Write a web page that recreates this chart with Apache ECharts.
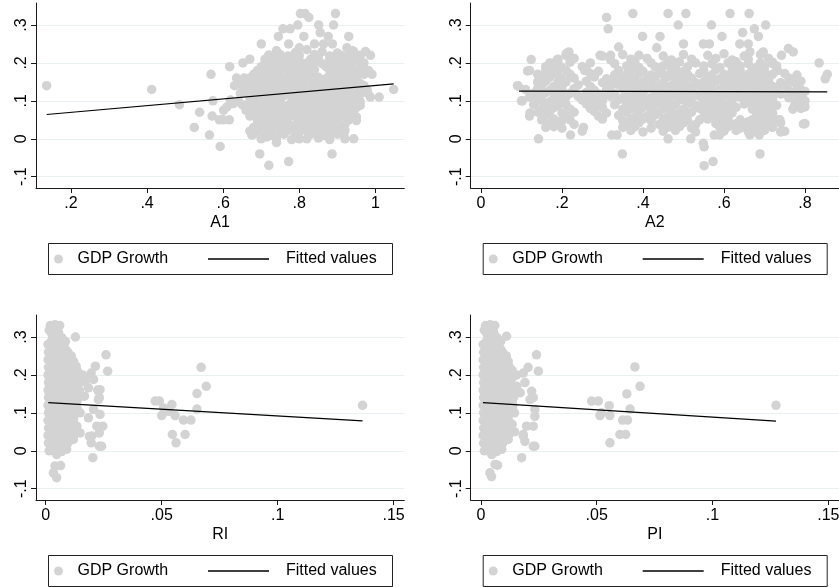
<!DOCTYPE html>
<html><head><meta charset="utf-8">
<script src="https://cdn.jsdelivr.net/npm/echarts@6/dist/echarts.min.js"></script>
<style>html,body{margin:0;padding:0;background:#fff}#c{width:839px;height:587px}</style>
</head><body><div id="c"></div>
<script>
const seriesNames = ['GDP Growth', 'Fitted values'];
const xTitles = ['A1', 'A2', 'RI', 'PI'];
const yTicks = [-0.1, 0, 0.1, 0.2, 0.3];
const xTicksA1 = [0.2, 0.4, 0.6, 0.8, 1];
const xTicksA2 = [0, 0.2, 0.4, 0.6, 0.8];
const xTicksRI = [0, 0.05, 0.1, 0.15];
const xTicksPI = [0, 0.05, 0.1, 0.15];
const fitA1 = [[0.136, 0.064], [1.048, 0.145]];
const fitA2 = [[0.094, 0.1255], [0.855, 0.1237]];
const fitRI = [[0.0011, 0.127], [0.1366, 0.079]];
const fitPI = [[0.0009, 0.127], [0.1274, 0.078]];

const ptsA1 = [
[0.136,0.14],[0.412,0.13],[0.485,0.09],[0.524,0.03],[0.538,0.07],[0.564,0.01],[0.568,0.17],[0.571,0.06],[0.573,0.1],[0.592,-0.02],
[0.59,0.05],[0.6,0.05],[0.616,0.05],[0.601,0.075],[0.61,0.084],[0.619,0.102],[0.627,0.093],[0.617,0.19],[0.63,0.14],[0.645,0.12],
[0.655,0.16],[0.64,0.1],[0.65,0.09],[0.66,0.075],[0.635,0.16],[0.645,0.15],[0.652,0.2],[0.66,0.14],[0.67,0.21],[0.675,0.01],
[0.685,0.03],[0.696,-0.04],[0.70,0.25],[0.715,0.005],[0.72,-0.07],[0.72,0.22],[0.74,-0.01],[0.745,0.27],[0.757,0.29],[0.772,-0.06],
[0.772,0.25],[0.776,0.29],[0.796,0.30],[0.80,0.24],[0.803,0.33],[0.812,0.27],[0.815,0.33],[0.82,0.0],[0.825,0.32],[0.84,0.25],
[0.851,0.30],[0.855,0.28],[0.864,0.25],[0.868,0.01],[0.876,0.27],[0.886,-0.04],[0.887,0.25],[0.89,0.30],[0.895,0.33],[0.917,0.01],
[0.925,0.24],[0.93,0.27],[0.943,0.0],[0.943,0.23],[0.96,0.22],[0.974,0.23],[0.978,0.13],[0.982,0.18],[0.987,0.11],[0.987,0.22],
[0.991,0.17],[1.01,0.11],[1.048,0.13],
[0.74,0.232],[0.79,0.228],[0.82,0.235],[0.86,0.23],[0.9,0.226],[0.94,0.232],
[0.72,0.22],[0.75,0.222],[0.77,0.218],[0.8,0.22],[0.84,0.222],[0.88,0.218],[0.91,0.22],[0.93,0.222],[0.96,0.218],
[0.71,0.21],[0.73,0.214],[0.76,0.208],[0.78,0.212],[0.80,0.206],[0.83,0.21],[0.85,0.214],[0.88,0.208],[0.9,0.212],[0.92,0.205],[0.95,0.21],
[0.71,0.2],[0.73,0.198],[0.75,0.202],[0.77,0.2],[0.79,0.198],[0.82,0.2],[0.84,0.202],[0.86,0.198],[0.88,0.2],[0.9,0.2],[0.92,0.198],[0.94,0.202],[0.97,0.2],
[0.70,0.19],[0.72,0.186],[0.74,0.192],[0.76,0.19],[0.78,0.185],[0.81,0.192],[0.83,0.188],[0.87,0.19],[0.89,0.186],[0.91,0.194],[0.93,0.19],[0.96,0.188],
[0.69,0.18],[0.71,0.182],[0.73,0.178],[0.75,0.18],[0.77,0.182],[0.8,0.178],[0.82,0.18],[0.84,0.182],[0.88,0.18],[0.9,0.178],[0.92,0.182],[0.95,0.18],
[0.68,0.17],[0.70,0.168],[0.72,0.172],[0.74,0.17],[0.77,0.166],[0.79,0.172],[0.81,0.168],[0.83,0.17],[0.88,0.168],[0.9,0.172],[0.92,0.166],[0.94,0.17],[0.97,0.17],
[0.67,0.16],[0.7,0.162],[0.72,0.158],[0.75,0.16],[0.78,0.162],[0.8,0.158],[0.82,0.16],[0.85,0.162],[0.87,0.158],[0.89,0.16],[0.91,0.162],[0.93,0.158],[0.95,0.16],
[0.66,0.15],[0.69,0.152],[0.71,0.148],[0.73,0.15],[0.75,0.154],[0.77,0.148],[0.79,0.15],[0.81,0.152],[0.84,0.148],[0.86,0.15],[0.88,0.154],[0.9,0.148],[0.92,0.15],[0.94,0.152],[0.96,0.146],
[0.65,0.14],[0.68,0.142],[0.7,0.138],[0.72,0.14],[0.75,0.142],[0.77,0.138],[0.79,0.14],[0.81,0.142],[0.83,0.138],[0.85,0.14],[0.87,0.142],[0.89,0.138],[0.91,0.14],[0.93,0.142],[0.95,0.138],[0.97,0.14],
[0.67,0.13],[0.69,0.128],[0.72,0.132],[0.74,0.13],[0.76,0.126],[0.78,0.132],[0.8,0.13],[0.82,0.128],[0.84,0.132],[0.86,0.13],[0.88,0.126],[0.91,0.13],[0.93,0.132],[0.95,0.128],[0.97,0.13],
[0.66,0.12],[0.68,0.122],[0.71,0.118],[0.73,0.12],[0.75,0.122],[0.77,0.118],[0.79,0.12],[0.81,0.122],[0.83,0.118],[0.85,0.12],[0.87,0.122],[0.9,0.118],[0.92,0.12],[0.94,0.122],[0.96,0.118],[0.98,0.12],
[0.68,0.11],[0.70,0.112],[0.72,0.108],[0.74,0.11],[0.76,0.114],[0.79,0.108],[0.81,0.11],[0.83,0.112],[0.85,0.108],[0.87,0.11],[0.89,0.112],[0.91,0.108],[0.93,0.11],[0.95,0.112],
[0.67,0.1],[0.69,0.102],[0.71,0.098],[0.73,0.1],[0.75,0.102],[0.78,0.098],[0.8,0.1],[0.82,0.102],[0.84,0.098],[0.86,0.1],[0.88,0.102],[0.9,0.098],[0.92,0.1],[0.94,0.102],[0.96,0.098],
[0.67,0.09],[0.69,0.092],[0.71,0.088],[0.73,0.09],[0.75,0.094],[0.77,0.088],[0.79,0.09],[0.81,0.092],[0.83,0.088],[0.85,0.09],[0.87,0.094],[0.9,0.088],[0.92,0.09],[0.94,0.092],[0.96,0.088],
[0.68,0.08],[0.7,0.082],[0.72,0.078],[0.74,0.08],[0.76,0.082],[0.78,0.078],[0.8,0.08],[0.82,0.082],[0.84,0.078],[0.86,0.08],[0.89,0.082],[0.91,0.078],[0.93,0.08],[0.95,0.082],
[0.68,0.07],[0.70,0.072],[0.72,0.068],[0.74,0.07],[0.76,0.074],[0.78,0.068],[0.8,0.07],[0.82,0.072],[0.84,0.068],[0.86,0.07],[0.88,0.074],[0.9,0.068],[0.92,0.07],[0.94,0.072],
[0.67,0.06],[0.69,0.062],[0.71,0.058],[0.73,0.06],[0.75,0.062],[0.77,0.058],[0.79,0.06],[0.81,0.062],[0.83,0.058],[0.85,0.06],[0.87,0.062],[0.89,0.058],[0.91,0.06],[0.93,0.062],[0.95,0.058],
[0.69,0.05],[0.71,0.052],[0.73,0.048],[0.75,0.05],[0.77,0.054],[0.8,0.048],[0.82,0.05],[0.84,0.052],[0.86,0.048],[0.88,0.05],[0.9,0.054],[0.93,0.05],[0.95,0.048],
[0.69,0.04],[0.71,0.042],[0.73,0.038],[0.75,0.04],[0.77,0.042],[0.79,0.038],[0.82,0.04],[0.84,0.042],[0.86,0.038],[0.88,0.04],[0.9,0.042],[0.92,0.038],
[0.68,0.03],[0.70,0.032],[0.72,0.028],[0.74,0.03],[0.76,0.034],[0.78,0.028],[0.81,0.03],[0.83,0.032],[0.85,0.028],[0.87,0.03],[0.89,0.034],[0.91,0.028],
[0.67,0.02],[0.69,0.022],[0.72,0.018],[0.75,0.02],[0.77,0.022],[0.8,0.018],[0.82,0.02],[0.84,0.022],[0.87,0.018],[0.89,0.02],[0.92,0.022],
[0.68,0.012],[0.71,0.01],[0.73,0.008],[0.76,0.012],[0.79,0.01],[0.83,0.012],[0.86,0.008],[0.88,0.01],[0.9,0.012],
[0.7,0.0],[0.74,0.002],[0.78,-0.002],[0.8,0.0],[0.85,0.002],[0.88,-0.002],[0.92,0.0]
];

const ptsA2 = [
[0.092,0.139],[0.102,0.1],[0.121,0.068],[0.115,0.179],[0.124,0.209],[0.142,0.0],[0.187,0.207],[0.211,0.225],[0.217,0.229],[0.221,0.01],
[0.253,0.03],[0.256,0.18],[0.294,0.22],[0.31,0.32],[0.314,0.29],[0.32,0.22],[0.323,0.01],[0.336,0.01],[0.349,-0.04],[0.34,0.242],
[0.375,0.33],[0.399,0.27],[0.434,0.24],[0.442,0.27],[0.462,0.33],[0.462,0.0],[0.487,0.3],[0.5,0.25],[0.506,0.33],[0.518,0.0],
[0.549,-0.012],[0.551,-0.021],[0.551,-0.071],[0.573,-0.06],[0.549,0.25],[0.564,0.25],[0.569,0.3],[0.576,0.01],[0.589,0.01],[0.595,0.27],
[0.615,0.33],[0.619,0.203],[0.639,0.25],[0.646,0.28],[0.66,0.25],[0.662,0.33],[0.664,0.229],[0.675,0.29],[0.685,0.27],[0.689,-0.04],
[0.687,0.01],[0.664,0.01],[0.697,0.229],[0.703,0.3],[0.72,0.198],[0.732,0.18],[0.738,0.05],[0.742,0.02],[0.742,0.22],[0.759,0.238],
[0.771,0.229],[0.786,0.15],[0.796,0.039],[0.8,0.084],[0.835,0.2],[0.855,0.17],[0.775,0.09],[0.79,0.11],[0.8,0.125],[0.78,0.128],[0.798,0.1],
[0.21,0.22],[0.3,0.218],[0.35,0.222],[0.39,0.22],[0.45,0.218],[0.5,0.222],[0.56,0.22],[0.6,0.224],[0.65,0.218],[0.69,0.222],
[0.19,0.21],[0.23,0.212],[0.32,0.208],[0.37,0.21],[0.41,0.212],[0.47,0.208],[0.52,0.21],[0.58,0.212],[0.62,0.208],[0.66,0.21],[0.71,0.212],
[0.17,0.2],[0.19,0.198],[0.22,0.202],[0.27,0.2],[0.33,0.198],[0.38,0.202],[0.42,0.2],[0.46,0.198],[0.49,0.203],[0.53,0.2],[0.57,0.198],[0.61,0.2],[0.63,0.203],[0.66,0.198],[0.69,0.2],[0.72,0.202],
[0.16,0.19],[0.18,0.192],[0.2,0.188],[0.25,0.19],[0.36,0.192],[0.39,0.188],[0.43,0.19],[0.45,0.192],[0.48,0.188],[0.51,0.19],[0.55,0.192],[0.59,0.188],[0.62,0.19],[0.64,0.192],[0.68,0.188],[0.7,0.19],[0.73,0.192],
[0.12,0.18],[0.16,0.182],[0.18,0.178],[0.21,0.18],[0.26,0.182],[0.29,0.178],[0.34,0.18],[0.37,0.183],[0.4,0.178],[0.44,0.18],[0.47,0.182],[0.5,0.178],[0.55,0.18],[0.58,0.182],[0.62,0.178],[0.64,0.18],[0.67,0.183],[0.7,0.178],[0.73,0.18],
[0.14,0.17],[0.16,0.172],[0.19,0.168],[0.22,0.17],[0.27,0.172],[0.33,0.168],[0.36,0.17],[0.39,0.172],[0.42,0.168],[0.45,0.17],[0.47,0.172],[0.49,0.168],[0.51,0.17],[0.54,0.172],[0.57,0.168],[0.6,0.17],[0.62,0.172],[0.64,0.168],[0.66,0.17],[0.68,0.172],[0.7,0.168],[0.72,0.17],[0.75,0.172],[0.78,0.168],
[0.15,0.16],[0.17,0.162],[0.2,0.158],[0.23,0.16],[0.28,0.163],[0.31,0.158],[0.35,0.16],[0.38,0.162],[0.41,0.158],[0.43,0.16],[0.46,0.163],[0.48,0.158],[0.52,0.16],[0.56,0.162],[0.59,0.158],[0.61,0.16],[0.63,0.162],[0.65,0.158],[0.67,0.16],[0.69,0.163],[0.71,0.158],[0.76,0.16],[0.85,0.158],
[0.14,0.15],[0.16,0.152],[0.19,0.148],[0.21,0.15],[0.26,0.152],[0.3,0.148],[0.33,0.15],[0.36,0.152],[0.38,0.148],[0.4,0.15],[0.42,0.152],[0.45,0.148],[0.48,0.15],[0.5,0.152],[0.53,0.148],[0.55,0.15],[0.58,0.152],[0.61,0.148],[0.63,0.15],[0.65,0.152],[0.67,0.148],[0.69,0.15],[0.71,0.152],[0.74,0.148],[0.77,0.15],[0.79,0.152],
[0.09,0.14],[0.15,0.142],[0.18,0.138],[0.2,0.14],[0.24,0.142],[0.27,0.138],[0.32,0.14],[0.34,0.143],[0.37,0.138],[0.39,0.14],[0.42,0.142],[0.44,0.138],[0.47,0.14],[0.49,0.142],[0.51,0.138],[0.54,0.14],[0.57,0.143],[0.6,0.138],[0.62,0.14],[0.64,0.142],[0.66,0.138],[0.68,0.14],[0.7,0.142],[0.72,0.138],[0.75,0.14],[0.78,0.142],
[0.11,0.13],[0.14,0.132],[0.17,0.128],[0.2,0.13],[0.23,0.132],[0.28,0.128],[0.31,0.13],[0.35,0.132],[0.37,0.128],[0.39,0.13],[0.41,0.132],[0.43,0.128],[0.46,0.13],[0.48,0.132],[0.5,0.128],[0.52,0.13],[0.55,0.132],[0.57,0.128],[0.59,0.13],[0.61,0.132],[0.63,0.128],[0.65,0.13],[0.67,0.132],[0.69,0.128],[0.71,0.13],[0.73,0.132],[0.76,0.128],[0.79,0.13],
[0.13,0.12],[0.16,0.122],[0.19,0.118],[0.22,0.12],[0.26,0.122],[0.29,0.118],[0.33,0.12],[0.36,0.123],[0.38,0.118],[0.4,0.12],[0.43,0.122],[0.45,0.118],[0.48,0.12],[0.5,0.122],[0.53,0.118],[0.56,0.12],[0.58,0.123],[0.61,0.118],[0.63,0.12],[0.65,0.122],[0.67,0.118],[0.69,0.12],[0.71,0.122],[0.74,0.118],[0.77,0.12],[0.79,0.122],
[0.12,0.11],[0.15,0.112],[0.18,0.108],[0.21,0.11],[0.24,0.112],[0.27,0.108],[0.3,0.11],[0.32,0.112],[0.35,0.108],[0.37,0.11],[0.39,0.112],[0.42,0.108],[0.44,0.11],[0.47,0.112],[0.49,0.108],[0.51,0.11],[0.54,0.112],[0.56,0.108],[0.58,0.11],[0.6,0.112],[0.62,0.108],[0.64,0.11],[0.66,0.112],[0.68,0.108],[0.7,0.11],[0.72,0.112],[0.76,0.108],[0.79,0.11],
[0.1,0.1],[0.14,0.102],[0.17,0.098],[0.2,0.1],[0.25,0.102],[0.28,0.098],[0.3,0.1],[0.34,0.103],[0.36,0.098],[0.39,0.1],[0.41,0.102],[0.44,0.098],[0.46,0.1],[0.49,0.102],[0.52,0.098],[0.55,0.1],[0.57,0.103],[0.59,0.098],[0.62,0.1],[0.66,0.102],[0.68,0.098],[0.7,0.1],[0.72,0.102],[0.78,0.098],[0.8,0.1],
[0.13,0.09],[0.16,0.092],[0.19,0.088],[0.21,0.09],[0.26,0.092],[0.29,0.088],[0.33,0.09],[0.36,0.092],[0.38,0.088],[0.41,0.09],[0.43,0.092],[0.46,0.088],[0.48,0.09],[0.51,0.092],[0.53,0.088],[0.55,0.09],[0.57,0.092],[0.59,0.088],[0.61,0.09],[0.65,0.092],[0.67,0.088],[0.69,0.09],[0.71,0.092],[0.73,0.088],[0.78,0.09],
[0.15,0.08],[0.18,0.082],[0.22,0.078],[0.27,0.08],[0.3,0.082],[0.35,0.078],[0.37,0.08],[0.4,0.083],[0.42,0.078],[0.45,0.08],[0.47,0.082],[0.5,0.078],[0.54,0.08],[0.56,0.082],[0.58,0.078],[0.6,0.08],[0.63,0.083],[0.67,0.078],[0.69,0.08],[0.71,0.082],[0.77,0.078],[0.79,0.08],
[0.14,0.07],[0.17,0.072],[0.2,0.068],[0.23,0.07],[0.28,0.072],[0.31,0.068],[0.36,0.07],[0.39,0.072],[0.42,0.068],[0.44,0.07],[0.47,0.072],[0.49,0.068],[0.52,0.07],[0.55,0.072],[0.57,0.068],[0.59,0.07],[0.61,0.072],[0.62,0.068],[0.68,0.07],[0.7,0.072],[0.72,0.068],
[0.12,0.06],[0.16,0.062],[0.21,0.058],[0.29,0.06],[0.34,0.062],[0.38,0.058],[0.41,0.06],[0.43,0.063],[0.46,0.058],[0.49,0.06],[0.51,0.062],[0.55,0.058],[0.57,0.06],[0.59,0.062],[0.61,0.058],[0.64,0.05],[0.66,0.045],[0.68,0.058],[0.7,0.06],[0.72,0.062],
[0.15,0.05],[0.18,0.052],[0.2,0.048],[0.22,0.05],[0.3,0.052],[0.35,0.048],[0.37,0.05],[0.4,0.052],[0.42,0.048],[0.45,0.05],[0.48,0.052],[0.51,0.048],[0.54,0.05],[0.56,0.052],[0.59,0.048],[0.61,0.05],[0.63,0.04],[0.65,0.036],[0.67,0.05],[0.69,0.052],[0.71,0.048],[0.73,0.05],
[0.17,0.04],[0.19,0.042],[0.23,0.038],[0.36,0.04],[0.39,0.042],[0.44,0.038],[0.47,0.04],[0.5,0.042],[0.53,0.038],[0.58,0.04],[0.6,0.042],[0.62,0.038],[0.65,0.04],[0.67,0.042],[0.69,0.038],[0.71,0.04],[0.74,0.042],[0.8,0.04],
[0.16,0.03],[0.18,0.032],[0.2,0.028],[0.35,0.03],[0.38,0.032],[0.42,0.028],[0.46,0.03],[0.49,0.032],[0.52,0.028],[0.59,0.03],[0.61,0.032],[0.64,0.028],[0.66,0.03],[0.68,0.032],[0.7,0.028],[0.72,0.03],
[0.25,0.02],[0.37,0.022],[0.4,0.018],[0.45,0.02],[0.48,0.022],[0.53,0.018],[0.6,0.02],[0.63,0.022],[0.66,0.018],[0.68,0.02],[0.7,0.022],[0.74,0.018],[0.75,0.02]
];

const ptsRI = [
[0.002,0.33],[0.004,0.332],[0.006,0.33],[0.0015,0.318],[0.003,0.3],[0.005,0.302],[0.007,0.298],[0.0128,0.3],
[0.0025,0.31],[0.0055,0.312],
[0.0025,0.29],[0.0055,0.292],[0.0085,0.288],
[0.001,0.28],[0.004,0.282],[0.007,0.278],
[0.0025,0.27],[0.0055,0.272],[0.0085,0.268],
[0.0012,0.26],[0.0042,0.262],[0.0068,0.258],[0.0095,0.26],
[0.0025,0.25],[0.0055,0.252],[0.0085,0.248],[0.011,0.25],
[0.001,0.24],[0.004,0.242],[0.007,0.238],[0.0098,0.24],[0.012,0.236],
[0.0025,0.23],[0.0055,0.232],[0.0085,0.228],[0.011,0.23],
[0.0012,0.22],[0.004,0.222],[0.0072,0.218],[0.0095,0.22],[0.0125,0.222],
[0.0025,0.21],[0.0055,0.212],[0.0085,0.208],[0.011,0.21],[0.0135,0.212],
[0.001,0.2],[0.0038,0.202],[0.007,0.198],[0.0098,0.2],[0.0122,0.204],[0.0145,0.2],
[0.0025,0.19],[0.0055,0.192],[0.0085,0.188],[0.011,0.19],[0.0135,0.192],
[0.0012,0.18],[0.004,0.182],[0.007,0.178],[0.0095,0.18],[0.012,0.184],
[0.0025,0.17],[0.0055,0.172],[0.0085,0.168],[0.011,0.17],[0.0135,0.172],
[0.001,0.16],[0.004,0.162],[0.0072,0.158],[0.0097,0.16],[0.0125,0.162],
[0.0025,0.15],[0.0055,0.152],[0.0085,0.148],[0.011,0.15],[0.0135,0.152],
[0.0012,0.14],[0.0042,0.142],[0.007,0.138],[0.0095,0.14],[0.0122,0.138],[0.0145,0.142],
[0.0025,0.13],[0.0055,0.132],[0.0085,0.128],[0.011,0.13],[0.0135,0.132],
[0.001,0.12],[0.004,0.122],[0.007,0.118],[0.0098,0.12],[0.012,0.124],
[0.0025,0.11],[0.0055,0.112],[0.0085,0.108],[0.011,0.11],[0.0135,0.112],
[0.0012,0.1],[0.004,0.102],[0.0072,0.098],[0.0095,0.1],[0.0125,0.096],[0.0148,0.1],
[0.0025,0.09],[0.0055,0.092],[0.0085,0.088],[0.011,0.09],
[0.001,0.08],[0.0038,0.082],[0.007,0.078],[0.0098,0.08],[0.012,0.082],
[0.0025,0.07],[0.0055,0.072],[0.0085,0.068],[0.011,0.07],
[0.0012,0.06],[0.004,0.062],[0.007,0.058],[0.0095,0.06],[0.0122,0.058],
[0.0025,0.05],[0.0055,0.052],[0.0085,0.048],[0.011,0.05],
[0.001,0.04],[0.0042,0.042],[0.0072,0.038],[0.0097,0.04],[0.0125,0.044],
[0.0025,0.03],[0.0055,0.032],[0.0085,0.028],[0.011,0.03],
[0.0012,0.02],[0.004,0.022],[0.007,0.018],[0.0095,0.02],
[0.0025,0.01],[0.0055,0.012],[0.0085,0.008],
[0.0015,0.0],[0.004,0.002],[0.0068,-0.002],[0.009,0.004],
[0.0047,-0.01],[0.004,-0.04],[0.0064,-0.039],[0.0033,-0.058],[0.0047,-0.071],
[0.0131,0.223],[0.0159,0.2],[0.0174,0.188],[0.0145,0.16],[0.0167,0.144],[0.0214,0.223],[0.0196,0.205],[0.026,0.253],[0.0267,0.21],[0.0224,0.16],
[0.0231,0.14],[0.0246,0.065],[0.0231,0.047],[0.0188,0.038],[0.0196,0.021],[0.0231,0.012],[0.0203,-0.018],[0.0162,0.183],[0.0184,0.166],[0.0206,0.188],
[0.0234,0.161],[0.0227,0.135],[0.0206,0.109],[0.0184,0.087],[0.0234,0.096],[0.022,0.065],[0.0199,0.039],[0.0241,0.012],[0.0134,0.065],[0.0148,0.047],
[0.0119,0.03],[0.0105,0.091],
[0.067,0.22],[0.0692,0.17],[0.0652,0.151],[0.0652,0.11],[0.0472,0.131],[0.049,0.131],[0.0544,0.122],[0.0508,0.113],[0.053,0.104],[0.05,0.093],
[0.0558,0.093],[0.0594,0.081],[0.0626,0.081],[0.0546,0.043],[0.0601,0.043],[0.0562,0.021],[0.1366,0.12]
];

const ptsPI = [
[0.002,0.33],[0.004,0.332],[0.006,0.33],[0.0015,0.318],[0.003,0.3],[0.005,0.302],[0.007,0.298],[0.0111,0.302],
[0.0025,0.31],[0.0055,0.312],
[0.0025,0.29],[0.0055,0.292],[0.0085,0.288],
[0.001,0.28],[0.004,0.282],[0.007,0.278],
[0.0025,0.27],[0.0055,0.272],[0.0085,0.268],
[0.0012,0.26],[0.0042,0.262],[0.0068,0.258],[0.0093,0.26],
[0.0025,0.25],[0.0055,0.252],[0.0085,0.248],[0.011,0.25],
[0.001,0.24],[0.004,0.242],[0.007,0.238],[0.0096,0.24],[0.0118,0.236],
[0.0025,0.23],[0.0055,0.232],[0.0085,0.228],[0.011,0.23],
[0.0012,0.22],[0.004,0.222],[0.0072,0.218],[0.0094,0.22],[0.0122,0.222],
[0.0025,0.21],[0.0055,0.212],[0.0085,0.208],[0.011,0.21],[0.0135,0.212],
[0.001,0.2],[0.0038,0.202],[0.007,0.198],[0.0096,0.2],[0.012,0.204],[0.0154,0.2],
[0.0025,0.19],[0.0055,0.192],[0.0085,0.188],[0.011,0.19],[0.0135,0.192],
[0.0012,0.18],[0.004,0.182],[0.007,0.178],[0.0094,0.18],[0.0118,0.184],
[0.0025,0.17],[0.0055,0.172],[0.0085,0.168],[0.011,0.17],[0.0135,0.172],
[0.001,0.16],[0.004,0.162],[0.0072,0.158],[0.0096,0.16],[0.0122,0.162],
[0.0025,0.15],[0.0055,0.152],[0.0085,0.148],[0.011,0.15],[0.0135,0.152],
[0.0012,0.14],[0.0042,0.142],[0.007,0.138],[0.0094,0.14],[0.012,0.138],[0.0142,0.142],
[0.0025,0.13],[0.0055,0.132],[0.0085,0.128],[0.011,0.13],[0.0135,0.132],
[0.001,0.12],[0.004,0.122],[0.007,0.118],[0.0096,0.12],[0.0118,0.124],
[0.0025,0.11],[0.0055,0.112],[0.0085,0.108],[0.011,0.11],[0.0135,0.112],
[0.0012,0.1],[0.004,0.102],[0.0072,0.098],[0.0094,0.1],[0.0122,0.096],[0.0145,0.1],
[0.0025,0.09],[0.0055,0.092],[0.0085,0.088],[0.011,0.09],
[0.001,0.08],[0.0038,0.082],[0.007,0.078],[0.0096,0.08],[0.0118,0.082],
[0.0025,0.07],[0.0055,0.072],[0.0085,0.068],[0.011,0.07],
[0.0012,0.06],[0.004,0.062],[0.007,0.058],[0.0094,0.06],[0.012,0.058],
[0.0025,0.05],[0.0055,0.052],[0.0085,0.048],[0.011,0.05],
[0.001,0.04],[0.0042,0.042],[0.0072,0.038],[0.0096,0.04],[0.0122,0.044],
[0.0025,0.03],[0.0055,0.032],[0.0085,0.028],[0.011,0.03],
[0.0012,0.02],[0.004,0.022],[0.007,0.018],[0.0094,0.02],
[0.0025,0.01],[0.0055,0.012],[0.0085,0.008],
[0.0015,0.0],[0.004,0.002],[0.0068,-0.002],[0.009,0.004],
[0.0047,-0.01],[0.0061,-0.036],[0.0072,-0.038],[0.0039,-0.058],[0.0046,-0.068],
[0.024,0.253],[0.0248,0.21],[0.0204,0.22],[0.0183,0.205],[0.019,0.18],[0.0219,0.157],[0.0226,0.14],[0.0233,0.091],[0.0226,0.065],[0.0183,0.043],
[0.019,0.025],[0.0226,0.012],[0.0176,-0.018],[0.0155,0.17],[0.017,0.153],[0.0212,0.135],[0.0233,0.109],[0.0197,0.065],[0.0183,0.039],[0.0233,0.012],
[0.0135,0.07],[0.0145,0.05],[0.0118,0.03],[0.0105,0.09],[0.0138,0.12],
[0.0665,0.221],[0.0687,0.17],[0.063,0.15],[0.0478,0.131],[0.0507,0.131],[0.0554,0.119],[0.052,0.1],[0.0514,0.093],[0.0557,0.093],[0.0644,0.11],
[0.0612,0.081],[0.0633,0.081],[0.06,0.043],[0.0625,0.043],[0.0557,0.021],[0.1274,0.12]
];

const FONT = '"Liberation Sans", Arial, Helvetica, sans-serif';
const fmt = v => {
  const r = Math.round(v * 1000) / 1000;
  if (r === 0) return '0';
  return String(r).replace(/^(-?)0\./, '$1.');
};

const panels = [
  { pts: ptsA1, fit: fitA1, ticks: xTicksA1, xr: [0.108, 1.076], left: 36, top: 3 },
  { pts: ptsA2, fit: fitA2, ticks: xTicksA2, xr: [-0.0254, 0.884], left: 470.7, top: 3 },
  { pts: ptsRI, fit: fitRI, ticks: xTicksRI, xr: [-0.0042, 0.1546], left: 36, top: 315 },
  { pts: ptsPI, fit: fitPI, ticks: xTicksPI, xr: [-0.0044, 0.1546], left: 470.7, top: 315 }
];
const yRange = [-0.1297, 0.358];
const W = 368.3, H = 185;

const grid = [], xAxis = [], yAxis = [], series = [], legend = [], graphic = [];
panels.forEach((p, i) => {
  grid.push({ left: p.left, top: p.top, width: W, height: H, containLabel: false, outerBoundsMode: 'none' });
  xAxis.push({
    gridIndex: i, type: 'value', min: p.xr[0], max: p.xr[1],
    axisLine: { show: true, onZero: false, lineStyle: { color: '#1a1a1a', width: 1 } },
    axisTick: { show: true, length: 5, customValues: p.ticks, lineStyle: { color: '#1a1a1a' } },
    axisLabel: { customValues: p.ticks, formatter: fmt, fontSize: 16, color: '#000', margin: 8, fontFamily: FONT },
    splitLine: { show: false },
    name: xTitles[i], nameLocation: 'middle', nameGap: 27,
    nameTextStyle: { fontSize: 16, color: '#000', fontFamily: FONT }
  });
  yAxis.push({
    gridIndex: i, type: 'value', min: yRange[0], max: yRange[1],
    axisLine: { show: true, onZero: false, lineStyle: { color: '#1a1a1a', width: 1 } },
    axisTick: { show: true, length: 5, customValues: yTicks, lineStyle: { color: '#1a1a1a' } },
    axisLabel: { customValues: yTicks, formatter: fmt, fontSize: 16, color: '#000', margin: 6, rotate: 90, fontFamily: FONT },
    splitLine: { show: true, lineStyle: { color: '#e8f0f2', width: 1 } }
  });
  series.push({
    type: 'scatter', name: seriesNames[0], xAxisIndex: i, yAxisIndex: i, data: p.pts,
    symbolSize: 9.5, itemStyle: { color: '#d3d3d3', opacity: 1 }, silent: true
  });
  series.push({
    type: 'line', name: seriesNames[1], xAxisIndex: i, yAxisIndex: i, data: p.fit,
    symbol: 'none', lineStyle: { color: '#000', width: 1.2 }, itemStyle: { color: '#000' }, silent: true, z: 3
  });
  const dx = p.left - 36, dy = p.top - 3;
  legend.push({
    data: [{ name: seriesNames[0], icon: 'circle' }], left: 54 + dx, top: 251 + dy, itemWidth: 28, itemHeight: 9,
    padding: 0, selectedMode: false, textStyle: { fontSize: 16, color: '#000', fontFamily: FONT, lineHeight: 16 }
  });
  legend.push({
    data: [{ name: seriesNames[1], icon: 'rect' }], left: 208 + dx, top: 251 + dy, itemWidth: 61, itemHeight: 1.4,
    symbolKeepAspect: false, padding: 0, selectedMode: false,
    itemStyle: { color: '#000' },
    textStyle: { fontSize: 16, color: '#000', fontFamily: FONT, lineHeight: 16, padding: [0, 0, 0, 12] }
  });
  graphic.push({
    type: 'rect', silent: true,
    shape: { x: 48.5 + dx, y: 243.5 + dy, width: 344, height: 31 },
    style: { fill: 'none', stroke: '#222', lineWidth: 1 }
  });
});

const chart = echarts.init(document.getElementById('c'), null, { renderer: 'canvas' });
chart.setOption({
  animation: false,
  backgroundColor: '#fff',
  textStyle: { fontFamily: FONT },
  grid, xAxis, yAxis, series, legend, graphic
});
</script></body></html>
